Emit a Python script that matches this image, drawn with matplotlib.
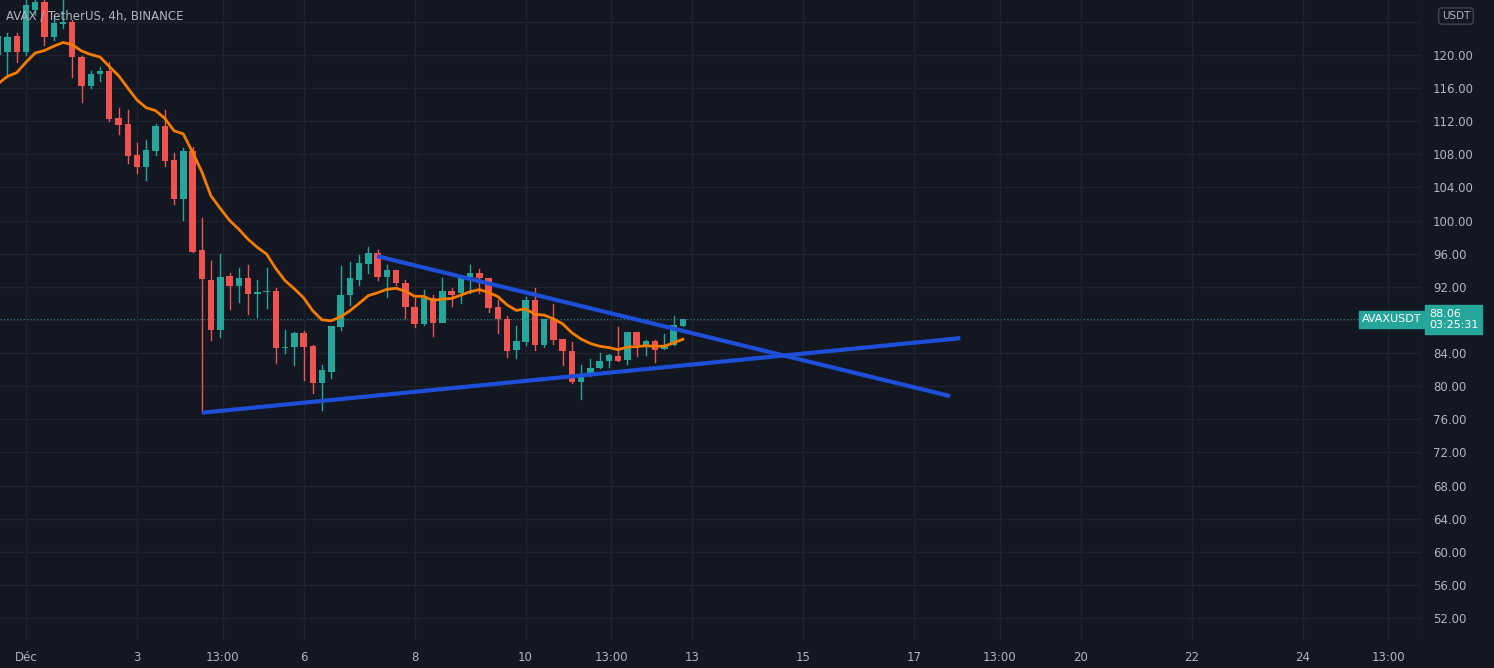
import matplotlib.pyplot as plt
from matplotlib.patches import Rectangle
import numpy as np

# 4h candles, AVAX/USDT (index 0 = Nov 30 12:00)
opens = [120.0, 120.4, 122.3, 120.4, 125.4, 126.4, 122.2, 123.8, 124.0, 119.8,
         116.3, 117.7, 118.1, 112.4, 111.7, 107.9, 106.5, 108.4, 111.4, 107.3,
         102.6, 108.4, 96.4, 92.8, 86.8, 93.3, 92.1, 93.1, 91.1, 91.4,
         91.5, 84.6, 84.7, 86.4, 84.9, 80.4, 81.7, 87.1, 91.0, 92.8,
         94.8, 96.1, 93.2, 94.0, 92.5, 89.6, 87.5, 90.7, 87.6, 91.5,
         91.3, 93.2, 93.7, 93.1, 89.6, 88.1, 84.4, 85.3, 90.4, 85.0,
         88.1, 85.7, 84.3, 80.5, 81.5, 82.2, 83.0, 83.6, 83.2, 86.5,
         85.0, 85.5, 84.5, 85.0, 87.3]
highs = [123.6, 122.7, 122.7, 126.6, 126.6, 126.6, 124.8, 126.6, 124.2, 119.9,
         118.1, 118.6, 119.2, 113.6, 113.4, 109.4, 109.7, 111.7, 113.4, 108.2,
         108.8, 108.9, 100.3, 95.1, 96.0, 93.7, 94.3, 94.6, 92.8, 94.3,
         91.9, 86.8, 86.5, 86.7, 85.0, 82.6, 87.3, 94.5, 95.0, 95.8,
         96.8, 96.4, 94.6, 94.0, 92.8, 90.7, 91.6, 91.0, 93.1, 91.9,
         93.3, 94.6, 94.2, 93.1, 90.4, 88.5, 87.3, 90.8, 91.9, 88.1,
         89.9, 85.7, 85.3, 82.6, 83.3, 84.0, 83.9, 87.1, 86.5, 86.5,
         85.6, 85.6, 86.3, 88.5, 88.1]
lows = [119.2, 117.3, 119.2, 120.0, 124.8, 121.2, 121.8, 123.3, 117.3, 114.3,
        116.0, 116.9, 112.0, 110.5, 107.0, 105.7, 104.9, 107.9, 106.6, 102.0,
        100.1, 96.2, 76.8, 85.6, 85.9, 89.3, 90.2, 88.7, 88.4, 89.4,
        82.8, 84.0, 82.6, 80.7, 79.2, 77.1, 81.0, 86.8, 89.8, 92.2,
        93.7, 92.8, 90.8, 92.2, 88.2, 87.1, 87.4, 86.1, 88.0, 89.7,
        90.0, 91.3, 91.3, 89.0, 86.4, 83.5, 83.4, 85.0, 84.4, 84.7,
        85.1, 82.6, 80.4, 78.5, 81.2, 82.2, 82.3, 83.0, 82.7, 83.6,
        83.8, 82.9, 84.5, 85.0, 87.3]
closes = [122.3, 122.2, 120.4, 126.0, 126.4, 122.2, 123.9, 124.0, 119.8, 116.3,
          117.7, 118.1, 112.3, 111.5, 107.8, 106.5, 108.5, 111.4, 107.2, 102.6,
          108.4, 96.2, 92.9, 86.8, 93.2, 92.1, 93.1, 91.1, 91.4, 91.5,
          84.6, 84.7, 86.4, 84.7, 80.4, 82.0, 87.3, 91.0, 93.1, 94.9,
          96.1, 93.2, 94.0, 92.5, 89.6, 87.5, 90.7, 87.6, 91.5, 91.0,
          93.2, 93.7, 93.1, 89.4, 88.1, 84.3, 85.5, 90.4, 85.0, 88.1,
          85.6, 84.3, 80.5, 81.5, 82.2, 83.0, 83.8, 83.0, 86.5, 85.0,
          85.5, 84.4, 85.0, 87.4, 88.06]
ema_seed = 115.5
ema_len = 12

# trendlines (x in 4h periods from Dec 1 00:00, price)
upper_line = [(37.95, 95.7), (99.9, 78.8)]
lower_line = [(19.03, 76.8), (101.0, 85.8)]

tick_pos = [0, 12, 21.25, 30, 42, 54, 63.25, 72, 84, 96, 105.25, 114, 126, 138, 147.25]
tick_labels = ["Déc", "3", "13:00", "6", "8", "10", "13:00", "13", "15", "17",
               "13:00", "20", "22", "24", "13:00"]
price_ticks = np.arange(52, 125, 4)

BG = "#131722"
GRID = "#1f2330"
TXT = "#b2b5be"
UP = "#26a69a"
DN = "#ef5350"

fig = plt.figure(figsize=(14.94, 6.68), dpi=100, facecolor=BG)
ax = fig.add_axes([0, 28 / 668, 1422 / 1494, 640 / 668], facecolor=BG)

xs = np.arange(len(opens)) - 3
for x, o, h, l, c in zip(xs, opens, highs, lows, closes):
    col = UP if c >= o else DN
    ax.plot([x, x], [l, h], color=col, lw=1, zorder=2)
    ax.add_patch(Rectangle((x - 0.35, min(o, c)), 0.7, max(abs(c - o), 0.15),
                           color=col, zorder=3, lw=0))

alpha = 2 / (ema_len + 1)
ema = []
prev = ema_seed
for c in closes:
    prev = prev + alpha * (c - prev)
    ema.append(prev)
ax.plot(xs, ema, color="#f57c00", lw=2, zorder=4)

for ln in (upper_line, lower_line):
    ax.plot([ln[0][0], ln[1][0]], [ln[0][1], ln[1][1]], color="#1e4fd8", lw=3,
            zorder=5, solid_capstyle="butt")

last = closes[-1]
ax.axhline(last, color=UP, lw=0.8, ls=(0, (1, 2)), zorder=1)

ax.set_xlim(-2.81, 150.9)
ax.set_ylim(49.35, 126.64)
ax.set_xticks(tick_pos)
ax.set_xticklabels(tick_labels)
ax.set_yticks(price_ticks)
# 88 is hidden behind the last-price box, 124 behind the USDT badge
ax.set_yticklabels(["" if p in (88, 124) else f"{p:.2f}" for p in price_ticks])
ax.yaxis.tick_right()
ax.grid(True, color=GRID, lw=1)
ax.tick_params(colors=TXT, labelsize=8.5, length=0, pad=8)
for s in ax.spines.values():
    s.set_visible(False)
ax.axvline(150.9, color="#2a2e39", lw=1)

ax.text(0.004, 0.975, "AVAX / TetherUS, 4h, BINANCE", transform=ax.transAxes,
        color=TXT, fontsize=8.5, va="center", ha="left")
ax.text(0.958, last, "AVAXUSDT", transform=ax.get_yaxis_transform(), color="white",
        fontsize=8, ha="left", va="center",
        bbox=dict(boxstyle="square,pad=0.3", fc=UP, ec=UP))
ax.text(1.005, last, f"{last:.2f}\n03:25:31", transform=ax.get_yaxis_transform(),
        color="white", fontsize=8, ha="left", va="center", linespacing=1.2,
        bbox=dict(boxstyle="square,pad=0.35", fc=UP, ec=UP))
fig.text(0.9745, 0.976, "USDT", color=TXT, fontsize=7.5, ha="center", va="center",
         bbox=dict(boxstyle="round,pad=0.3", fc=BG, ec="#434651"))

fig.savefig("out.png", dpi=100, facecolor=BG)
